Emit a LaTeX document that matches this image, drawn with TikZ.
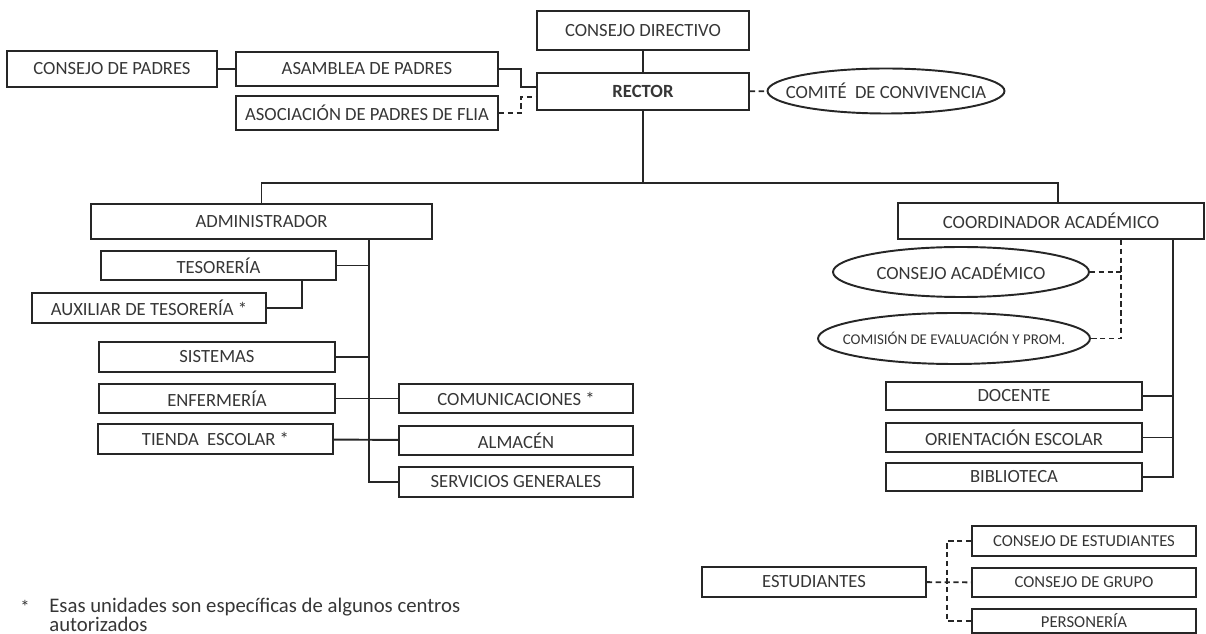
\documentclass[tikz,border=0pt]{standalone}
\usepackage{fontspec}
\setmainfont{Carlito}
\usepackage{tikz}
\usetikzlibrary{calc}
\usetikzlibrary{positioning}
\usetikzlibrary{shapes.geometric}

\definecolor{linegray}{HTML}{262626}
\definecolor{textgray}{HTML}{363636}

\begin{document}
\begin{tikzpicture}[
	x=0.02cm, y=-0.02cm,
	every node/.style={text=textgray, font=\fontsize{10.6}{12}\selectfont},
	box/.style = {draw=linegray, line width=1.1pt, inner sep=0pt},
	oval/.style = {draw=linegray, line width=1.1pt, ellipse, inner sep=0pt,
		execute at begin node={\hbox to 0pt\bgroup\hss}, execute at end node={\hss\egroup}},
	small/.style = {font=\fontsize{9.5}{11}\selectfont},
	link/.style = {draw=linegray, line width=1.1pt},
	dlink/.style = {link, dashed, dash pattern=on 3pt off 2pt}
	]
	\useasboundingbox (0,0) rectangle (1206,634);

	% top
	\node[box, minimum width=4.24cm, minimum height=0.78cm] (cdir) at (643,30.5) {CONSEJO DIRECTIVO};
	\node[box, minimum width=4.24cm, minimum height=0.74cm, font=\fontsize{10.6}{12}\bfseries] (rector) at (643,91.5) {RECTOR};
	\node[box, minimum width=4.2cm, minimum height=0.72cm] (cpad) at (112,69) {CONSEJO DE PADRES};
	\node[box, minimum width=5.24cm, minimum height=0.68cm] (asam) at (367,69) {ASAMBLEA DE PADRES};
	\node[box, minimum width=5.24cm, minimum height=0.68cm] (asoc) at (367,113) {ASOCIACIÓN DE PADRES DE FLIA};
	\node[oval, minimum width=4.74cm, minimum height=0.9cm] (comite) at (886,91) {COMITÉ~ DE CONVIVENCIA};

	\coordinate (bar) at (643,183);

	% administrador
	\node[box, minimum width=6.82cm, minimum height=0.7cm] (admin) at (261.5,221.5) {ADMINISTRADOR};
	\node[box, minimum width=4.7cm, minimum height=0.58cm] (teso) at (218.5,265.5) {TESORERÍA};
	\node[box, minimum width=4.68cm, minimum height=0.6cm] (aux) at (149,308) {AUXILIAR DE TESORERÍA *};
	\node[box, minimum width=4.72cm, minimum height=0.6cm] (sist) at (217,357) {SISTEMAS};
	\node[box, minimum width=4.72cm, minimum height=0.58cm] (enf) at (217,398.5) {ENFERMERÍA};
	\node[box, minimum width=4.7cm, minimum height=0.6cm] (tienda) at (215.5,439) {TIENDA~ ESCOLAR *};
	\node[box, minimum width=4.68cm, minimum height=0.58cm] (comun) at (516,398.5) {COMUNICACIONES *};
	\node[box, minimum width=4.68cm, minimum height=0.58cm] (almac) at (516,440.5) {ALMACÉN};
	\node[box, minimum width=4.68cm, minimum height=0.6cm] (serv) at (516,482) {SERVICIOS GENERALES};

	% coordinador
	\node[box, minimum width=6.12cm, minimum height=0.72cm] (coord) at (1051,221) {COORDINADOR ACADÉMICO};
	\node[oval, minimum width=5.12cm, minimum height=1cm] (cacad) at (961,272) {CONSEJO ACADÉMICO};
	\node[oval, minimum width=5.44cm, minimum height=1.02cm, font=\fontsize{8.5}{10}\selectfont] (comis) at (954,338.5) {COMISIÓN DE EVALUACIÓN Y PROM.};
	\node[box, minimum width=5.12cm, minimum height=0.56cm] (doc) at (1014,396) {DOCENTE};
	\node[box, minimum width=5.12cm, minimum height=0.58cm] (orient) at (1014,437.5) {ORIENTACIÓN ESCOLAR};
	\node[box, minimum width=5.12cm, minimum height=0.56cm] (bibl) at (1014,477) {BIBLIOTECA};

	% estudiantes
	\node[box, minimum width=4.48cm, minimum height=0.6cm] (est) at (814,582) {ESTUDIANTES};
	\node[box, small, minimum width=4.48cm, minimum height=0.6cm] (cest) at (1084,541) {CONSEJO DE ESTUDIANTES};
	\node[box, small, minimum width=4.48cm, minimum height=0.58cm] (cgrp) at (1084,582.5) {CONSEJO DE GRUPO};
	\node[box, small, minimum width=4.48cm, minimum height=0.48cm] (pers) at (1084,621) {PERSONERÍA};

	% nota
	\node (star) at (25,607) {*};
	\node[anchor=base west, align=left, inner sep=0pt, font=\fontsize{11.8}{10.3}\selectfont] (note) at (49,631) {Esas unidades son específicas de algunos centros\\autorizados};

	% conexiones
	\draw[link] (cdir) -- (rector);
	\draw[link] (rector) -- (bar);
	\draw[link] (admin.north) |- (bar) -| ([xshift=0.14cm]coord.north);
	\draw[link] (cpad) -- (asam);
	\draw[link] (asam.east) -- ++(22,0) |- ($(rector.west)+(0,-4.5)$);
	\draw[dlink] (asoc.east) -- ++(22,0) |- ($(rector.west)+(0,5.5)$);
	\draw[dlink] (rector) -- (comite);

	\coordinate (trunk) at ($(admin.south east)+(-64,0)$);
	\draw[link] (trunk) |- (serv.west);
	\draw[link] (teso.east) -- (teso.east -| trunk);
	\draw[link] (aux.east) -| ($(teso.south west)+(202,0)$);
	\draw[link] (sist.east) -- (sist.east -| trunk);
	\draw[link] (enf) -- (comun);
	\draw[link] (tienda) -- (almac);

	\coordinate (ctrunk) at ($(coord.south west)+(276,0)$);
	\coordinate (cdash) at ($(coord.south west)+(224,0)$);
	\draw[link] (ctrunk) |- (bibl.east);
	\draw[link] (doc.east) -- (doc.east -| ctrunk);
	\draw[link] (orient.east) -- (orient.east -| ctrunk);
	\draw[dlink] (cdash) |- (comis.east);
	\draw[dlink] (cacad.east) -- (cacad.east -| cdash);

	\coordinate (sdash) at ($(est.east)+(20,0)$);
	\draw[dlink] (est) -- (cgrp);
	\draw[dlink] (cest.west) -| (sdash) |- (pers.west);

\end{tikzpicture}
\end{document}
